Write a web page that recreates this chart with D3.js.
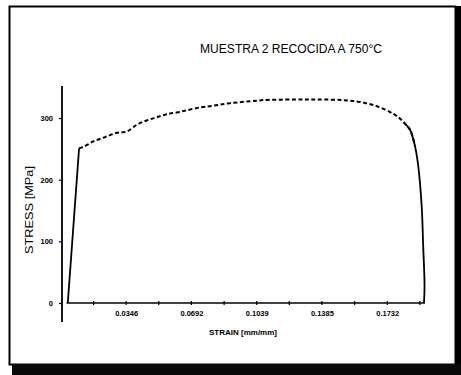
<!DOCTYPE html>
<html>
<head>
<meta charset="utf-8">
<script src="https://cdn.jsdelivr.net/npm/d3@7"></script>
<style>
  html, body { margin: 0; padding: 0; background: #fff; }
  svg { display: block; }
</style>
</head>
<body>
<script>
// strain [mm/mm] and stress [MPa]
const strain = [0.0036, 0.0096, 0.0118, 0.0172, 0.0234, 0.0296, 0.0349, 0.0402, 0.0455, 0.0508,
  0.0561, 0.0632, 0.0720, 0.0809, 0.0897, 0.1039, 0.1072, 0.1232, 0.1359, 0.1497,
  0.1587, 0.1678, 0.1763, 0.1800, 0.1826, 0.1853, 0.1879, 0.1897, 0.1915, 0.1923,
  0.1930, 0.1927];
const stress = [0, 251, 253, 262, 269, 276, 278, 289, 296, 301,
  306, 310, 316, 320, 324, 328, 329, 330, 330, 329,
  326, 319, 307, 299, 291, 281, 255, 221, 156, 91,
  29, 0];

const xLabelTicks = [0.0346, 0.0692, 0.1039, 0.1385, 0.1732];
const xLabelText = ["0.0346", "0.0692", "0.1039", "0.1385", "0.1732"];
const xMinorTicks = [0.0173, 0.0346, 0.0519, 0.0692, 0.0866, 0.1039, 0.1212, 0.1385, 0.1559, 0.1732, 0.1905];
const yTicks = [0, 100, 200, 300];

const title = "MUESTRA 2 RECOCIDA A 750°C";
const xTitle = "STRAIN [mm/mm]";
const yTitle = "STRESS [MPa]";

const width = 461, height = 375;

const svg = d3.select("body").append("svg")
  .attr("width", width)
  .attr("height", height)
  .attr("font-family", "'Liberation Sans', Arial, sans-serif");

svg.append("rect").attr("width", width).attr("height", height).attr("fill", "#fff");

// scanned page frame
svg.append("rect")
  .attr("x", 9.5).attr("y", 6.5)
  .attr("width", 446).attr("height", 358)
  .attr("fill", "none").attr("stroke", "#000").attr("stroke-width", 2);
svg.append("rect").attr("x", 456).attr("y", 6).attr("width", 5).attr("height", 369).attr("fill", "#000");
svg.append("rect").attr("x", 12).attr("y", 364).attr("width", 449).attr("height", 11).attr("fill", "#0a0a0a");

const x = d3.scaleLinear().domain([0, 0.2]).range([61, 61 + 0.2 * 1883.6]);
const y = d3.scaleLinear().domain([0, 300]).range([303, 118]);

// y axis
const yAxis = svg.append("g")
  .attr("transform", "translate(62,0)")
  .call(d3.axisLeft(y).tickValues(yTicks).tickSize(3).tickPadding(6).tickFormat(d3.format("d")));
yAxis.select(".domain").remove();
yAxis.append("line")
  .attr("y1", y(352)).attr("y2", y(-31))
  .attr("stroke", "#000").attr("stroke-width", 1.8);
yAxis.selectAll(".tick line").attr("stroke", "#000").attr("stroke-width", 1.2);
yAxis.selectAll(".tick text")
  .attr("font-size", 7.5).attr("font-weight", "bold").attr("fill", "#000");

// x axis
const xAxis = svg.append("g")
  .attr("transform", `translate(0,${y(0)})`)
  .call(d3.axisBottom(x).tickValues(xLabelTicks).tickSize(0).tickPadding(8)
    .tickFormat((d, i) => xLabelText[i]));
xAxis.select(".domain").remove();
xAxis.append("line")
  .attr("x1", x(0.0030)).attr("x2", x(0.1932))
  .attr("stroke", "#000").attr("stroke-width", 1.5);
xAxis.selectAll(".minor")
  .data(xMinorTicks)
  .join("line")
  .attr("class", "minor")
  .attr("x1", d => x(d)).attr("x2", d => x(d))
  .attr("y1", -2).attr("y2", 2)
  .attr("stroke", "#000").attr("stroke-width", 1.2);
xAxis.selectAll(".tick text")
  .attr("font-size", 7.5).attr("font-weight", "bold").attr("fill", "#000");

// curve: solid elastic rise and final drop, dotted (as scanned) along the plateau
const I = d3.range(strain.length);
const smooth = d3.line()
  .x(i => x(strain[i]))
  .y(i => y(stress[i]))
  .curve(d3.curveCatmullRom.alpha(0.5));
const straight = d3.line()
  .x(i => x(strain[i]))
  .y(i => y(stress[i]));

svg.append("path")
  .attr("fill", "none").attr("stroke", "#000").attr("stroke-width", 1.8)
  .attr("d", straight(I.slice(0, 2)));
svg.append("path")
  .attr("fill", "none").attr("stroke", "#000").attr("stroke-width", 2)
  .attr("stroke-dasharray", "4,2.5")
  .attr("d", smooth(I.slice(1, 27)));
svg.append("path")
  .attr("fill", "none").attr("stroke", "#000").attr("stroke-width", 1.8)
  .attr("stroke-linejoin", "round")
  .attr("d", smooth(I.slice(24)));

// titles
svg.append("text")
  .attr("x", 200).attr("y", 53)
  .attr("font-size", 12)
  .attr("textLength", 182).attr("lengthAdjust", "spacingAndGlyphs")
  .attr("fill", "#000")
  .text(title);

svg.append("text")
  .attr("x", 243).attr("y", 335)
  .attr("text-anchor", "middle")
  .attr("font-size", 8).attr("font-weight", "bold")
  .attr("fill", "#000")
  .text(xTitle);

svg.append("text")
  .attr("transform", "translate(33,210) rotate(-90)")
  .attr("text-anchor", "middle")
  .attr("font-size", 11)
  .attr("textLength", 88).attr("lengthAdjust", "spacingAndGlyphs")
  .attr("fill", "#000")
  .text(yTitle);
</script>
</body>
</html>
